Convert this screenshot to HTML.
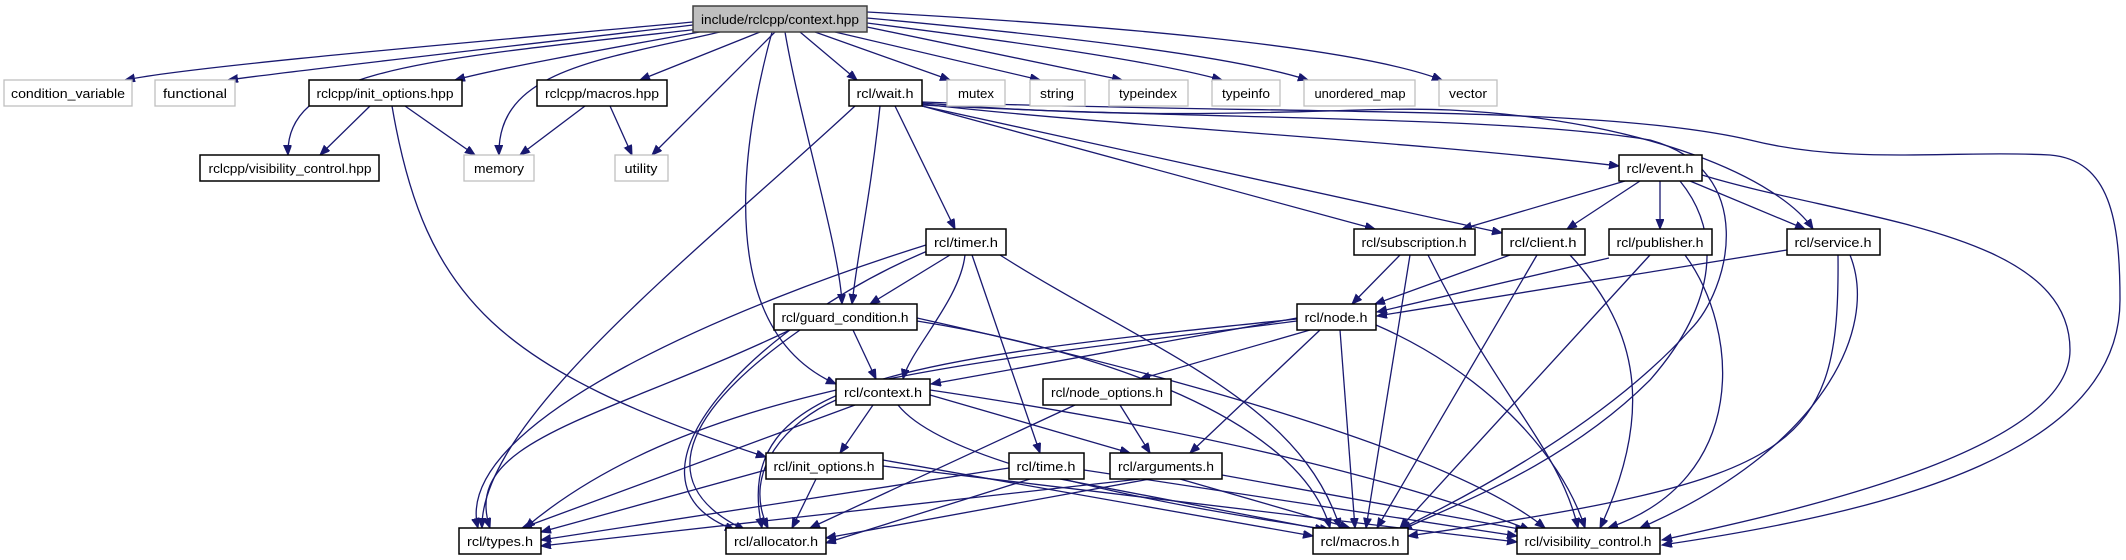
<!DOCTYPE html>
<html><head><meta charset="utf-8"><style>
html,body{margin:0;padding:0;background:#fff;}
svg{display:block;}
text{font-family:"Liberation Sans",sans-serif;font-size:13px;fill:#000;text-anchor:middle;}
.e{fill:none;stroke:#191970;stroke-width:1.3;marker-end:url(#a);}
.g{fill:#fff;stroke:#bfbfbf;stroke-width:1.3;}
.b{fill:#fff;stroke:#000;stroke-width:1.5;}
</style></head><body>
<svg width="2126" height="560" viewBox="0 0 2126 560" xmlns="http://www.w3.org/2000/svg">
<defs><marker id="a" markerUnits="userSpaceOnUse" markerWidth="11" markerHeight="9" refX="10" refY="4" orient="auto"><path d="M0,0 L10,4 L0,8 z" fill="#191970" stroke="#191970"/></marker></defs>
<!-- edges from root -->
<path class="e" d="M693,22 C500,40 200,65 125,80"/>
<path class="e" d="M693,25 C520,45 300,70 228,80"/>
<path class="e" d="M700,29 C420,60 285,70 288,155"/>
<path class="e" d="M705,31 C600,50 500,68 455,80"/>
<path class="e" d="M720,32 C600,60 497,70 499,155"/>
<path class="e" d="M760,32 L640,80"/>
<path class="e" d="M775,32 L652,155"/>
<path class="e" d="M772,32 C740,150 715,330 836,384"/>
<path class="e" d="M785,32 C800,120 840,250 842,304"/>
<path class="e" d="M800,32 L857,80"/>
<path class="e" d="M815,32 L950,80"/>
<path class="e" d="M835,32 L1040,80"/>
<path class="e" d="M867,27 L1122,80"/>
<path class="e" d="M867,23 C1000,40 1150,60 1222,80"/>
<path class="e" d="M867,18 C1050,35 1230,55 1308,80"/>
<path class="e" d="M867,12 C1100,25 1350,45 1442,80"/>
<!-- rclcpp -->
<path class="e" d="M370,106 L320,155"/>
<path class="e" d="M405,106 L475,155"/>
<path class="e" d="M392,106 C425,300 500,370 766,457"/>
<path class="e" d="M585,106 L520,155"/>
<path class="e" d="M610,106 L632,155"/>
<!-- wait.h -->
<path class="e" d="M855,106 C700,250 480,420 482,528"/>
<path class="e" d="M880,106 C870,200 858,250 852,304"/>
<path class="e" d="M895,106 L955,229"/>
<path class="e" d="M922,106 L1375,229"/>
<path class="e" d="M922,106 L1502,233"/>
<path class="e" d="M922,104 C1100,125 1400,140 1619,166"/>
<path class="e" d="M922,103 C1200,125 1350,105 1450,110 C1650,120 1780,180 1813,229"/>
<path class="e" d="M922,105 C1200,120 1500,115 1650,140 C1760,170 1730,290 1690,330 C1600,430 1450,505 1398,530"/>
<path class="e" d="M922,102 C1300,115 1600,105 1750,140 C1850,165 1950,150 2050,155 C2110,160 2120,220 2120,300 C2120,450 1900,510 1662,545"/>
<!-- event.h -->
<path class="e" d="M1625,181 L1462,229"/>
<path class="e" d="M1640,181 L1567,229"/>
<path class="e" d="M1660,181 L1660,229"/>
<path class="e" d="M1690,181 L1805,229"/>
<path class="e" d="M1680,181 C1720,230 1720,300 1650,380 C1560,470 1440,510 1402,530"/>
<path class="e" d="M1702,175 C1850,220 2070,230 2070,350 C2070,450 1800,510 1662,540"/>
<!-- row3 -->
<path class="e" d="M1400,255 L1352,304"/>
<path class="e" d="M1410,255 L1366,528"/>
<path class="e" d="M1428,255 C1500,400 1560,450 1578,528"/>
<path class="e" d="M1510,255 L1375,304"/>
<path class="e" d="M1537,255 L1377,528"/>
<path class="e" d="M1570,255 C1630,320 1660,400 1600,528"/>
<path class="e" d="M1609,258 L1377,312"/>
<path class="e" d="M1650,255 L1400,528"/>
<path class="e" d="M1685,255 C1740,330 1750,480 1608,528"/>
<path class="e" d="M1787,250 L1377,316"/>
<path class="e" d="M1838,255 C1840,450 1800,480 1408,536"/>
<path class="e" d="M1850,255 C1880,330 1820,450 1640,528"/>
<!-- node.h -->
<path class="e" d="M1297,318 L931,384"/>
<path class="e" d="M1310,330 L1140,379"/>
<path class="e" d="M1320,330 L1190,453"/>
<path class="e" d="M1297,321 C1000,360 700,380 525,528"/>
<path class="e" d="M1297,319 C900,360 730,380 762,528"/>
<path class="e" d="M1340,330 L1355,528"/>
<path class="e" d="M1376,325 C1480,370 1560,450 1585,528"/>
<!-- timer.h -->
<path class="e" d="M950,255 L870,304"/>
<path class="e" d="M965,255 C960,300 910,350 903,379"/>
<path class="e" d="M972,255 L1040,453"/>
<path class="e" d="M926,245 C750,300 450,420 478,528"/>
<path class="e" d="M930,250 C760,320 600,480 735,530"/>
<path class="e" d="M1000,255 C1150,350 1300,400 1340,528"/>
<!-- guard -->
<path class="e" d="M853,330 L876,379"/>
<path class="e" d="M790,330 C600,420 460,440 490,528"/>
<path class="e" d="M800,330 C700,400 640,480 745,530"/>
<path class="e" d="M917,321 C1100,350 1300,420 1330,528"/>
<path class="e" d="M917,318 C1150,370 1450,450 1545,528"/>
<!-- context.h -->
<path class="e" d="M873,405 L840,453"/>
<path class="e" d="M930,395 L1130,453"/>
<path class="e" d="M855,405 L522,528"/>
<path class="e" d="M836,400 C790,420 740,470 768,528"/>
<path class="e" d="M898,405 C950,470 1200,510 1330,530"/>
<path class="e" d="M930,390 C1200,430 1400,480 1530,530"/>
<!-- lower -->
<path class="e" d="M1120,405 L1150,453"/>
<path class="e" d="M1075,405 L810,528"/>
<path class="e" d="M766,470 L541,532"/>
<path class="e" d="M816,479 L792,528"/>
<path class="e" d="M883,460 L1313,536"/>
<path class="e" d="M883,466 L1517,542"/>
<path class="e" d="M1009,468 L541,540"/>
<path class="e" d="M1030,479 L826,543"/>
<path class="e" d="M1060,479 L1325,530"/>
<path class="e" d="M1084,470 L1517,536"/>
<path class="e" d="M1140,479 L541,546"/>
<path class="e" d="M1150,479 L826,538"/>
<path class="e" d="M1180,479 L1350,528"/>
<path class="e" d="M1222,475 L1525,530"/>
<!-- nodes -->
<rect x="693" y="6" width="174" height="26" fill="#bfbfbf" stroke="#404040" stroke-width="1.5"/><text x="780" y="24" textLength="158" lengthAdjust="spacingAndGlyphs">include/rclcpp/context.hpp</text>
<rect class="g" x="4" y="80" width="128" height="26"/><text x="68" y="98" textLength="114" lengthAdjust="spacingAndGlyphs">condition_variable</text>
<rect class="g" x="155" y="80" width="80" height="26"/><text x="195" y="98" textLength="64" lengthAdjust="spacingAndGlyphs">functional</text>
<rect class="b" x="309" y="80" width="153" height="26"/><text x="385" y="98" textLength="137" lengthAdjust="spacingAndGlyphs">rclcpp/init_options.hpp</text>
<rect class="b" x="537" y="80" width="130" height="26"/><text x="602" y="98" textLength="114" lengthAdjust="spacingAndGlyphs">rclcpp/macros.hpp</text>
<rect class="b" x="849" y="80" width="73" height="26"/><text x="885" y="98" textLength="57" lengthAdjust="spacingAndGlyphs">rcl/wait.h</text>
<rect class="g" x="947" y="80" width="58" height="26"/><text x="976" y="98" textLength="36" lengthAdjust="spacingAndGlyphs">mutex</text>
<rect class="g" x="1030" y="80" width="55" height="26"/><text x="1057" y="98" textLength="34" lengthAdjust="spacingAndGlyphs">string</text>
<rect class="g" x="1109" y="80" width="79" height="26"/><text x="1148" y="98" textLength="58" lengthAdjust="spacingAndGlyphs">typeindex</text>
<rect class="g" x="1212" y="80" width="68" height="26"/><text x="1246" y="98" textLength="48" lengthAdjust="spacingAndGlyphs">typeinfo</text>
<rect class="g" x="1304" y="80" width="111" height="26"/><text x="1360" y="98" textLength="91" lengthAdjust="spacingAndGlyphs">unordered_map</text>
<rect class="g" x="1439" y="80" width="58" height="26"/><text x="1468" y="98" textLength="38" lengthAdjust="spacingAndGlyphs">vector</text>
<rect class="b" x="200" y="155" width="179" height="26"/><text x="290" y="173" textLength="163" lengthAdjust="spacingAndGlyphs">rclcpp/visibility_control.hpp</text>
<rect class="g" x="464" y="155" width="70" height="26"/><text x="499" y="173" textLength="50" lengthAdjust="spacingAndGlyphs">memory</text>
<rect class="g" x="615" y="155" width="53" height="26"/><text x="641" y="173" textLength="33" lengthAdjust="spacingAndGlyphs">utility</text>
<rect class="b" x="1619" y="155" width="83" height="26"/><text x="1660" y="173" textLength="67" lengthAdjust="spacingAndGlyphs">rcl/event.h</text>
<rect class="b" x="926" y="229" width="80" height="26"/><text x="966" y="247" textLength="64" lengthAdjust="spacingAndGlyphs">rcl/timer.h</text>
<rect class="b" x="1354" y="229" width="121" height="26"/><text x="1414" y="247" textLength="105" lengthAdjust="spacingAndGlyphs">rcl/subscription.h</text>
<rect class="b" x="1502" y="229" width="83" height="26"/><text x="1543" y="247" textLength="67" lengthAdjust="spacingAndGlyphs">rcl/client.h</text>
<rect class="b" x="1609" y="229" width="103" height="26"/><text x="1660" y="247" textLength="87" lengthAdjust="spacingAndGlyphs">rcl/publisher.h</text>
<rect class="b" x="1787" y="229" width="93" height="26"/><text x="1833" y="247" textLength="77" lengthAdjust="spacingAndGlyphs">rcl/service.h</text>
<rect class="b" x="774" y="304" width="143" height="26"/><text x="845" y="322" textLength="127" lengthAdjust="spacingAndGlyphs">rcl/guard_condition.h</text>
<rect class="b" x="1297" y="304" width="79" height="26"/><text x="1336" y="322" textLength="63" lengthAdjust="spacingAndGlyphs">rcl/node.h</text>
<rect class="b" x="836" y="379" width="94" height="26"/><text x="883" y="397" textLength="78" lengthAdjust="spacingAndGlyphs">rcl/context.h</text>
<rect class="b" x="1043" y="379" width="128" height="26"/><text x="1107" y="397" textLength="112" lengthAdjust="spacingAndGlyphs">rcl/node_options.h</text>
<rect class="b" x="766" y="453" width="117" height="26"/><text x="824" y="471" textLength="101" lengthAdjust="spacingAndGlyphs">rcl/init_options.h</text>
<rect class="b" x="1009" y="453" width="75" height="26"/><text x="1046" y="471" textLength="59" lengthAdjust="spacingAndGlyphs">rcl/time.h</text>
<rect class="b" x="1110" y="453" width="112" height="26"/><text x="1166" y="471" textLength="96" lengthAdjust="spacingAndGlyphs">rcl/arguments.h</text>
<rect class="b" x="459" y="528" width="82" height="26"/><text x="500" y="546" textLength="66" lengthAdjust="spacingAndGlyphs">rcl/types.h</text>
<rect class="b" x="726" y="528" width="100" height="26"/><text x="776" y="546" textLength="84" lengthAdjust="spacingAndGlyphs">rcl/allocator.h</text>
<rect class="b" x="1313" y="528" width="95" height="26"/><text x="1360" y="546" textLength="79" lengthAdjust="spacingAndGlyphs">rcl/macros.h</text>
<rect class="b" x="1517" y="528" width="143" height="26"/><text x="1588" y="546" textLength="127" lengthAdjust="spacingAndGlyphs">rcl/visibility_control.h</text>
</svg>
</body></html>
